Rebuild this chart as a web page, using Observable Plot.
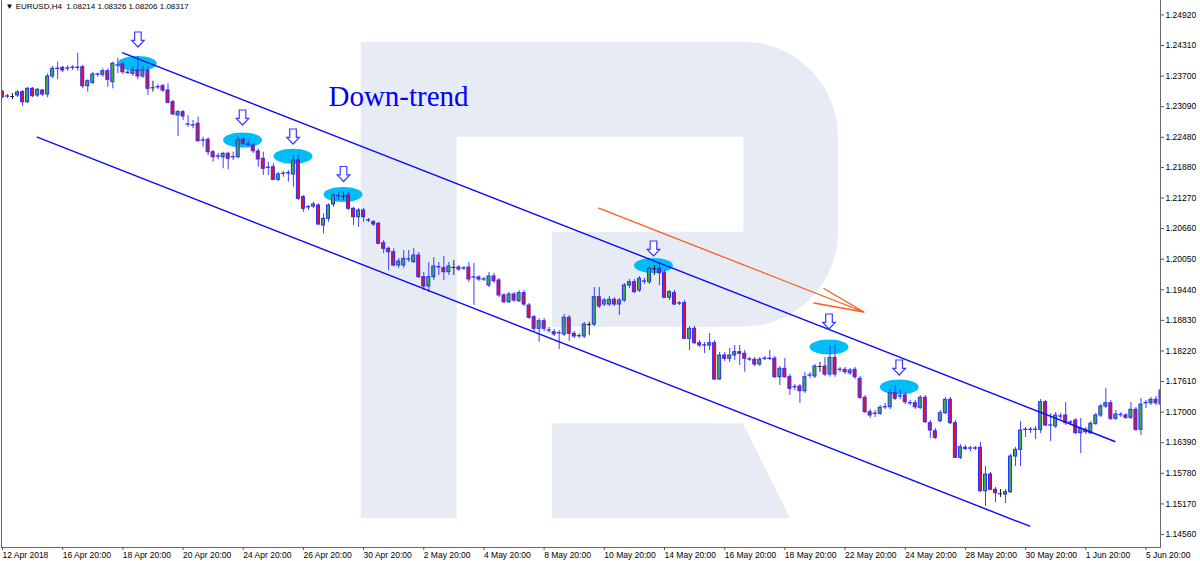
<!DOCTYPE html>
<html><head><meta charset="utf-8">
<script src="https://cdn.jsdelivr.net/npm/d3@7"></script>
<script src="https://cdn.jsdelivr.net/npm/@observablehq/plot@0.6"></script>
<style>
html,body{margin:0;padding:0;background:#fff;}
#chart{width:1200px;height:561px;overflow:hidden;}
</style></head><body><div id="chart"></div>
<script>
// ---- EURUSD H4 candles (bar index 0 = 12 Apr 2018 20:00) ----
const open = [
1.23380,1.23297,1.23294,1.23314,1.23380,1.23180,1.23447,1.23314,1.23413,1.23334,
1.23693,1.23843,1.23866,1.23849,1.23863,1.23869,1.23878,1.23499,1.23567,1.23729,
1.23726,1.23798,1.23579,1.23915,1.23932,1.23763,1.23746,1.23812,1.23693,1.23812,
1.23467,1.23476,1.23499,1.23413,1.23180,1.22915,1.22981,1.22738,1.22713,1.22749,
1.22413,1.22430,1.22183,1.22094,1.22083,1.22151,1.22080,1.22083,1.22430,1.22334,
1.22317,1.22197,1.22052,1.21869,1.21884,1.21633,1.21749,1.21761,1.21738,1.22018,
1.21286,1.21083,1.21100,1.21120,1.20722,1.20855,1.21140,1.21303,1.21306,1.21320,
1.21055,1.20887,1.21021,1.20818,1.20787,1.20755,1.20369,1.20257,1.20189,1.19924,
1.19924,1.20041,1.19990,1.20123,1.19691,1.19505,1.19691,1.19887,1.19870,1.19790,
1.19884,1.19884,1.19861,1.19884,1.19682,1.19685,1.19642,1.19525,1.19705,1.19625,
1.19326,1.19192,1.19346,1.19212,1.19372,1.19126,1.18893,1.18662,1.18813,1.18625,
1.18594,1.18571,1.18548,1.18881,1.18562,1.18511,1.18508,1.18747,1.18747,1.19292,
1.19146,1.19146,1.19240,1.19146,1.19226,1.19525,1.19591,1.19425,1.19602,1.19591,
1.19858,1.19858,1.19770,1.19280,1.19372,1.19163,1.19172,1.18462,1.18662,1.18375,
1.18326,1.18329,1.18375,1.17651,1.18129,1.18064,1.18129,1.18195,1.18163,1.18047,
1.18044,1.17950,1.18061,1.18067,1.18064,1.17697,1.17864,1.17697,1.17494,1.17511,
1.17417,1.17728,1.17711,1.17910,1.17910,1.17750,1.18083,1.17841,1.17844,1.17776,
1.17844,1.17665,1.17286,1.16999,1.16964,1.16967,1.17095,1.17098,1.17378,1.17309,
1.17332,1.17181,1.17178,1.17086,1.17286,1.16780,1.16620,1.16819,1.16979,1.17246,
1.16780,1.16089,1.16289,1.16272,1.16278,1.16289,1.15423,1.15756,1.15451,1.15372,
1.15358,1.15404,1.16115,1.16249,1.16645,1.16651,1.16645,1.16648,1.17198,1.16731,
1.16714,1.16910,1.16933,1.16790,1.16833,1.16580,1.16648,1.16580,1.16767,1.16933,
1.17112,1.17178,1.16867,1.16940,1.16933,1.16887,1.17047,1.16648,1.17175,1.17178,
1.17246,1.17152];
const high = [
1.23413,1.23334,1.23354,1.23413,1.23413,1.23473,1.23473,1.23453,1.23433,1.23746,
1.23892,1.23978,1.23892,1.23912,1.23912,1.24157,1.23912,1.23627,1.23778,1.23758,
1.23846,1.23846,1.23978,1.24052,1.23972,1.23812,1.23892,1.24091,1.23892,1.23892,
1.23599,1.23533,1.23533,1.23547,1.23214,1.23015,1.23015,1.22915,1.22815,1.22881,
1.22482,1.22470,1.22217,1.22163,1.22183,1.22183,1.22183,1.22482,1.22470,1.22416,
1.22357,1.22251,1.22183,1.21984,1.21952,1.21778,1.21804,1.21818,1.22117,1.22117,
1.21320,1.21120,1.21186,1.21154,1.20955,1.21154,1.21354,1.21386,1.21386,1.21386,
1.21086,1.21061,1.21061,1.20861,1.20821,1.20787,1.20422,1.20289,1.20257,1.20064,
1.20223,1.20223,1.20263,1.20183,1.19784,1.19984,1.20083,1.19984,1.20103,1.19984,
1.20024,1.19924,1.19904,1.19984,1.19964,1.19724,1.19685,1.19784,1.19764,1.19665,
1.19366,1.19386,1.19386,1.19425,1.19425,1.19166,1.18927,1.18867,1.18867,1.18688,
1.18648,1.18628,1.18947,1.18927,1.18608,1.18568,1.18787,1.18793,1.19485,1.19485,
1.19266,1.19306,1.19286,1.19266,1.19565,1.19645,1.19645,1.19705,1.19665,1.19904,
1.19924,1.19984,1.19824,1.19425,1.19425,1.19206,1.19226,1.18708,1.18708,1.18428,
1.18389,1.18568,1.18428,1.18189,1.18189,1.18269,1.18329,1.18329,1.18229,1.18089,
1.18089,1.18089,1.18109,1.18229,1.18109,1.17910,1.18070,1.17750,1.17551,1.17551,
1.17790,1.17790,1.17950,1.17990,1.18089,1.18329,1.18329,1.17890,1.17890,1.17870,
1.17890,1.17711,1.17332,1.17053,1.17033,1.17132,1.17172,1.17451,1.17531,1.17451,
1.17392,1.17232,1.17232,1.17332,1.17332,1.16833,1.16674,1.17033,1.17292,1.17292,
1.16833,1.16355,1.16335,1.16315,1.16315,1.16395,1.15916,1.15796,1.15497,1.15457,
1.15457,1.16155,1.16295,1.16813,1.16694,1.16694,1.16714,1.17252,1.17232,1.16973,
1.16993,1.16973,1.17192,1.16833,1.16873,1.16873,1.16694,1.16813,1.16973,1.17152,
1.17471,1.17232,1.17033,1.16993,1.16973,1.17192,1.17092,1.17272,1.17232,1.17292,
1.17312,1.17697];
const low = [
1.23254,1.23254,1.23234,1.23274,1.23094,1.23154,1.23274,1.23274,1.23294,1.23268,
1.23647,1.23627,1.23772,1.23798,1.23812,1.23798,1.23447,1.23380,1.23533,1.23679,
1.23679,1.23479,1.23447,1.23752,1.23732,1.23732,1.23693,1.23627,1.23653,1.23314,
1.23380,1.23433,1.23374,1.23148,1.22915,1.22496,1.22815,1.22682,1.22650,1.22383,
1.22283,1.22117,1.21984,1.22032,1.21852,1.21832,1.22018,1.22052,1.22317,1.22297,
1.22157,1.21884,1.21719,1.21719,1.21619,1.21599,1.21685,1.21585,1.21485,1.21220,
1.20987,1.21021,1.21055,1.20722,1.20556,1.20787,1.21086,1.21220,1.21220,1.21021,
1.20722,1.20688,1.20787,1.20781,1.20702,1.20343,1.20157,1.19824,1.19890,1.19864,
1.19864,1.19984,1.19964,1.19665,1.19425,1.19386,1.19625,1.19724,1.19625,1.19724,
1.19724,1.19804,1.19824,1.19585,1.19126,1.19605,1.19605,1.19485,1.19565,1.19286,
1.19166,1.19166,1.19186,1.19186,1.19106,1.18847,1.18608,1.18395,1.18608,1.18568,
1.18508,1.18249,1.18508,1.18409,1.18468,1.18468,1.18468,1.18528,1.18708,1.19067,
1.19106,1.19106,1.19106,1.18927,1.19186,1.19465,1.19366,1.19386,1.19545,1.19545,
1.19724,1.19525,1.19266,1.19226,1.19126,1.19126,1.18448,1.18229,1.18349,1.18289,
1.18169,1.18229,1.17631,1.17631,1.18010,1.17990,1.18030,1.17930,1.17796,1.18010,
1.17910,1.17910,1.18030,1.18030,1.17671,1.17531,1.17671,1.17332,1.17431,1.17172,
1.17372,1.17671,1.17671,1.17790,1.17711,1.17697,1.17697,1.17790,1.17750,1.17731,
1.17651,1.17252,1.16973,1.16873,1.16893,1.16933,1.17053,1.17053,1.17232,1.17252,
1.17152,1.17132,1.17053,1.17053,1.16773,1.16474,1.16454,1.16793,1.16953,1.16753,
1.16076,1.16056,1.16235,1.16215,1.16235,1.15398,1.15118,1.15437,1.15198,1.15298,
1.15178,1.15378,1.15916,1.15916,1.16494,1.16574,1.16454,1.16574,1.16714,1.16415,
1.16674,1.16853,1.16734,1.16734,1.16554,1.16175,1.16554,1.16554,1.16734,1.16893,
1.17072,1.16833,1.16833,1.16893,1.16853,1.16853,1.16614,1.16534,1.17072,1.17132,
1.17132,1.17132];
const close = [
1.23280,1.23291,1.23294,1.23374,1.23180,1.23447,1.23300,1.23427,1.23334,1.23693,
1.23846,1.23849,1.23812,1.23855,1.23869,1.23863,1.23499,1.23599,1.23732,1.23735,
1.23798,1.23627,1.23946,1.23909,1.23778,1.23769,1.23812,1.23693,1.23812,1.23447,
1.23467,1.23482,1.23413,1.23168,1.22935,1.22981,1.22895,1.22732,1.22719,1.22402,
1.22419,1.22183,1.22083,1.22100,1.22151,1.22052,1.22086,1.22430,1.22351,1.22328,
1.22203,1.22038,1.21852,1.21875,1.21633,1.21738,1.21755,1.21767,1.22018,1.21254,
1.21055,1.21089,1.21140,1.20741,1.20855,1.21120,1.21320,1.21309,1.21306,1.21055,
1.20887,1.21021,1.20887,1.20824,1.20741,1.20357,1.20257,1.20189,1.19924,1.20004,
1.20058,1.20047,1.20123,1.19691,1.19505,1.19691,1.19904,1.19893,1.19790,1.19904,
1.19884,1.19844,1.19867,1.19645,1.19688,1.19645,1.19648,1.19705,1.19611,1.19326,
1.19192,1.19346,1.19226,1.19372,1.19146,1.18881,1.18662,1.18813,1.18662,1.18631,
1.18548,1.18577,1.18881,1.18562,1.18508,1.18517,1.18747,1.18747,1.19292,1.19106,
1.19226,1.19240,1.19146,1.19226,1.19525,1.19591,1.19392,1.19659,1.19608,1.19858,
1.19858,1.19770,1.19280,1.19392,1.19146,1.19169,1.18462,1.18662,1.18375,1.18329,
1.18332,1.18375,1.17651,1.18129,1.18064,1.18129,1.18195,1.18163,1.18064,1.18053,
1.17950,1.18044,1.18067,1.18061,1.17697,1.17864,1.17697,1.17465,1.17500,1.17417,
1.17697,1.17734,1.17910,1.17910,1.17750,1.18083,1.17750,1.17847,1.17796,1.17830,
1.17697,1.17286,1.16999,1.16933,1.16970,1.17086,1.17101,1.17378,1.17266,1.17315,
1.17198,1.17175,1.17098,1.17286,1.16799,1.16634,1.16488,1.16979,1.17246,1.16780,
1.16089,1.16301,1.16265,1.16278,1.16272,1.15423,1.15756,1.15451,1.15384,1.15372,
1.15404,1.16115,1.16249,1.16634,1.16651,1.16645,1.16651,1.17198,1.16734,1.16737,
1.16933,1.16916,1.16780,1.16796,1.16580,1.16668,1.16600,1.16767,1.16933,1.17112,
1.17178,1.16867,1.16953,1.16946,1.16887,1.17047,1.16648,1.17152,1.17181,1.17246,
1.17178,1.17431];

// ---- axes ----
const timeTickBars = [0,12,24,36,48,60,72,84,96,108,120,132,144,156,168,180,192,204,216,228];
const timeTickLabels = ["12 Apr 2018","16 Apr 20:00","18 Apr 20:00","20 Apr 20:00","24 Apr 20:00",
  "26 Apr 20:00","30 Apr 20:00","2 May 20:00","4 May 20:00","8 May 20:00","10 May 20:00",
  "14 May 20:00","16 May 20:00","18 May 20:00","22 May 20:00","24 May 20:00","28 May 20:00",
  "30 May 20:00","1 Jun 20:00","5 Jun 20:00"];
const priceTicks = [1.24920,1.24310,1.23700,1.23090,1.22480,1.21880,1.21270,1.20660,1.20050,
  1.19440,1.18830,1.18220,1.17610,1.17000,1.16390,1.15780,1.15170,1.14560];

// ---- annotations (bar index, price) ----
const upperChannelBars = [23.99, 221.8];
const upperChannelPrices = [1.24165, 1.16415];
const lowerChannelBars = [6.92, 204.8];
const lowerChannelPrices = [1.22482, 1.14726];
const trendShaftBars = [118.9, 171.75];
const trendShaftPrices = [1.21067, 1.18997];
const trendHeadBars = [163.8, 171.75, 161.8];
const trendHeadPrices = [1.19465, 1.18997, 1.19176];
const touchBars = [26.86, 47.86, 57.93, 67.9, 129.8, 164.8, 178.8];
const touchPrices = [1.23952, 1.22426, 1.22103, 1.21340, 1.19924, 1.18299, 1.17501];
const arrowBars = [27.0, 47.86, 57.93, 68.0, 129.8, 164.8, 178.8];
const arrowPrices = [1.24430, 1.22875, 1.22496, 1.21748, 1.20263, 1.18807, 1.17890];
const labelTexts = ["Down-trend"];
const labelBars = [65.0];
const labelPrices = [1.2328];
const headerText = "\u25BC EURUSD,H4  1.08214 1.08326 1.08206 1.08317";

// ---- build tables ----
const candles = open.map((o, i) => ({i, o, h: high[i], l: low[i], c: close[i]}));
const bodies = candles.filter(d => d.o !== d.c);
const dojis = candles.filter(d => d.o === d.c);
const pts = (bs, ps) => bs.map((b, k) => ({bar: b, price: ps[k]}));
const upper = pts(upperChannelBars, upperChannelPrices);
const lower = pts(lowerChannelBars, lowerChannelPrices);
const shaft = pts(trendShaftBars, trendShaftPrices);
const head = pts(trendHeadBars, trendHeadPrices);
const touches = pts(touchBars, touchPrices);
const arrows = pts(arrowBars, arrowPrices);
const labels = labelTexts.map((t, k) => ({text: t, bar: labelBars[k], price: labelPrices[k]}));
const tickLabel = new Map(timeTickBars.map((b, k) => [b, timeTickLabels[k]]));

const WICK = "#3d3dff", OUTLINE = "#2b2bff", GREEN = "#34b534", RED = "#e3132d";

const ellipseSymbol = {draw(ctx) {
  const rx = 19.5, ry = 7.5, k = 0.5523;
  ctx.moveTo(rx, 0);
  ctx.bezierCurveTo(rx, k*ry, k*rx, ry, 0, ry);
  ctx.bezierCurveTo(-k*rx, ry, -rx, k*ry, -rx, 0);
  ctx.bezierCurveTo(-rx, -k*ry, -k*rx, -ry, 0, -ry);
  ctx.bezierCurveTo(k*rx, -ry, rx, -k*ry, rx, 0);
  ctx.closePath();
}};
const downArrowSymbol = {draw(ctx) {
  ctx.moveTo(-3.3, -7.5); ctx.lineTo(3.3, -7.5); ctx.lineTo(3.3, 0.8);
  ctx.lineTo(6.3, 0.8); ctx.lineTo(0, 7.5); ctx.lineTo(-6.3, 0.8); ctx.lineTo(-3.3, 0.8);
  ctx.closePath();
}};

// RoboForex-style watermark drawn behind the chart
function watermark() {
  const g = d3.create("svg:g");
  g.append("path").attr("fill", "#e7ecf4").attr("d",
    "M360.7,41.7H456.7V518.3H360.7Z" +
    "M456.7,41.7H743A95,95 0 0 1 838,136.7V231.7A95,95 0 0 1 743,326.7H552V231.7H743.3V136.7H456.7Z" +
    "M552,423.3H743L790,518.3H552Z");
  return g.node();
}

const chart = Plot.plot({
  width: 1200, height: 561,
  marginLeft: 1, marginRight: 40, marginTop: 0, marginBottom: 14,
  style: {fontFamily: "'Liberation Sans', Arial, sans-serif", fontSize: "8.5px", background: "#fff", color: "#000"},
  x: {domain: [-0.2, 230.9]},
  y: {domain: [1.14301, 1.25208]},
  color: {type: "identity"},
  marks: [
    watermark,
    Plot.dot(touches, {x: "bar", y: "price", symbol: ellipseSymbol, r: 10, fill: "#00bdf8", stroke: null}),
    Plot.ruleX(bodies, {x: "i", y1: "l", y2: "h", stroke: WICK, strokeWidth: 1, clip: true}),
    Plot.ruleX(dojis, {x: "i", y1: "l", y2: "h", stroke: "#222", strokeWidth: 1, clip: true}),
    Plot.rect(bodies, {
      x1: d => d.i - 0.3, x2: d => d.i + 0.3,
      y1: d => Math.min(d.o, d.c), y2: d => Math.max(d.o, d.c),
      fill: d => d.c > d.o ? GREEN : RED, stroke: OUTLINE, strokeWidth: 1, clip: true
    }),
    Plot.ruleY(dojis, {y: "o", x1: d => d.i - 0.4, x2: d => d.i + 0.4, stroke: "#222", strokeWidth: 1, clip: true}),
    Plot.line(upper, {x: "bar", y: "price", stroke: "#0a0aff", strokeWidth: 1.4}),
    Plot.line(lower, {x: "bar", y: "price", stroke: "#0a0aff", strokeWidth: 1.4}),
    Plot.line(shaft, {x: "bar", y: "price", stroke: "#ff5a1e", strokeWidth: 1.3}),
    Plot.line(head, {x: "bar", y: "price", stroke: "#ff5a1e", strokeWidth: 1.3}),
    Plot.dot(arrows, {x: "bar", y: "price", symbol: downArrowSymbol, r: 8, fill: "#fff", stroke: "#3b3bff", strokeWidth: 1.2}),
    Plot.text(labels, {x: "bar", y: "price", text: "text", textAnchor: "start", lineAnchor: "middle",
      fontFamily: "'Liberation Serif', 'Times New Roman', serif", fontSize: 29, fill: "#0000ff"}),
    Plot.text([headerText], {text: d => d, frameAnchor: "top-left", dx: 4, dy: 3, lineAnchor: "top",
      textAnchor: "start", fontSize: 8, fill: "#000", fontFamily: "'Liberation Sans', 'DejaVu Sans', sans-serif"}),
    Plot.frame({anchor: "left", stroke: "#666"}),
    Plot.frame({anchor: "bottom", stroke: "#666"}),
    Plot.frame({anchor: "right", stroke: "#666"}),
    Plot.axisY(priceTicks, {anchor: "right", tickSize: 3, tickPadding: 2, label: null,
      tickFormat: d => d.toFixed(5), stroke: "#555", fill: "#000"}),
    Plot.axisX(timeTickBars, {anchor: "bottom", tickSize: 3, tickPadding: 1, label: null,
      tickFormat: d => tickLabel.get(d), textAnchor: "start", dx: 0, stroke: "#555", fill: "#000"})
  ]
});
document.getElementById("chart").appendChild(chart);
</script>
</body></html>
